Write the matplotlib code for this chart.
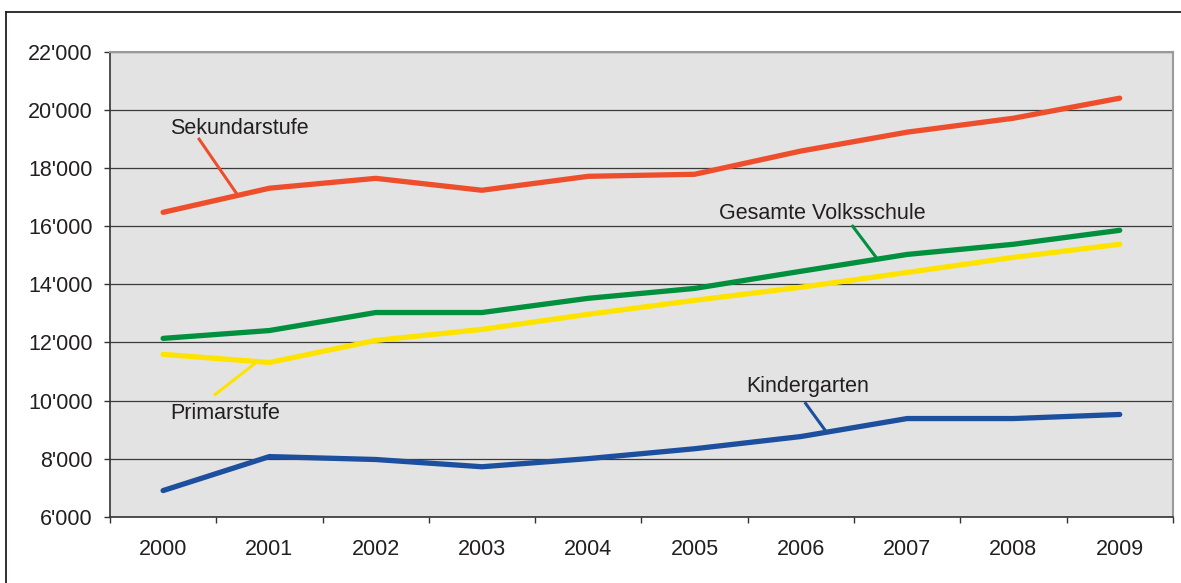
import matplotlib
matplotlib.use("Agg")
import matplotlib.pyplot as plt
from matplotlib.lines import Line2D
from matplotlib.ticker import FuncFormatter

plt.rcParams['font.family'] = ['Liberation Sans', 'DejaVu Sans']

years = ['2000', '2001', '2002', '2003', '2004', '2005', '2006', '2007', '2008', '2009']
sekundarstufe = [16480, 17310, 17650, 17240, 17720, 17790, 18590, 19240, 19720, 20410]
gesamte = [12140, 12410, 13030, 13030, 13520, 13860, 14450, 15030, 15380, 15860]
primarstufe = [11590, 11310, 12070, 12450, 12970, 13450, 13900, 14410, 14930, 15380]
kindergarten = [6900, 8070, 7970, 7720, 8000, 8340, 8760, 9380, 9380, 9520]

series = [
    ('Sekundarstufe', sekundarstufe, '#EE4E2B'),
    ('Gesamte Volksschule', gesamte, '#00903E'),
    ('Primarstufe', primarstufe, '#FFE300'),
    ('Kindergarten', kindergarten, '#1D4F9F'),
]

# label position (x, y) and leader line ((x0, y0), (x1, y1)) in data units
labels = {
    'Sekundarstufe': ((0.066, 19380), ((0.339, 19000), (0.687, 17150))),
    'Gesamte Volksschule': ((5.226, 16450), ((6.488, 16000), (6.704, 14950))),
    'Primarstufe': ((0.066, 9550), ((0.490, 10210), (0.876, 11310))),
    'Kindergarten': ((5.490, 10480), ((6.045, 9900), (6.234, 8950))),
}

FS = 15.5
TXT = '#231F20'

fig = plt.figure(figsize=(11.81, 5.83), dpi=100)
ax = fig.add_axes([0.0931, 0.1137, 0.9, 0.7971])
ax.set_facecolor('#E3E3E3')

x = list(range(len(years)))
for name, vals, color in series:
    ax.plot(x, vals, color=color, lw=3.8, solid_capstyle='round',
            solid_joinstyle='round', zorder=3)
    (tx, ty), ((x0, y0), (x1, y1)) = labels[name]
    ax.plot([x0, x1], [y0, y1], color=color, lw=2.2, zorder=3)
    ax.text(tx, ty, name, fontsize=FS, color=TXT, va='center', ha='left')

ax.set_xlim(-0.5, 9.5)
ax.set_ylim(6000, 22000)
ax.set_yticks(range(6000, 22001, 2000))
ax.yaxis.set_major_formatter(FuncFormatter(lambda v, p: f"{int(v) // 1000}'{int(v) % 1000:03d}"))
ax.grid(axis='y', color='#3A3A3A', lw=0.9, zorder=1)
ax.set_axisbelow(True)

# category boundaries get the tick marks, centres get the year labels
ax.set_xticks([i - 0.5 for i in range(len(years) + 1)])
ax.set_xticklabels([])
ax.set_xticks(x, minor=True)
ax.set_xticklabels(years, minor=True)
ax.tick_params(axis='x', which='major', length=4, width=1, color='#333333', direction='out')
ax.tick_params(axis='x', which='minor', length=0, pad=16, labelsize=FS, labelcolor=TXT)
ax.tick_params(axis='y', length=4, width=1, color='#333333', pad=8.5, labelsize=FS,
               labelcolor=TXT)

for side in ['left', 'bottom']:
    ax.spines[side].set_color('#333333')
    ax.spines[side].set_linewidth(1.2)
for side in ['top', 'right']:
    ax.spines[side].set_color('#9A9A9A')
    ax.spines[side].set_linewidth(1.5)

# outer frame around the chart
fx = 6 / 1181
fy = 1 - 12 / 583
fig.add_artist(Line2D([fx, fx], [0, fy], color=TXT, lw=1.3))
fig.add_artist(Line2D([fx, 1], [fy, fy], color=TXT, lw=1.3))

fig.savefig('out.png', dpi=100, facecolor='white')
